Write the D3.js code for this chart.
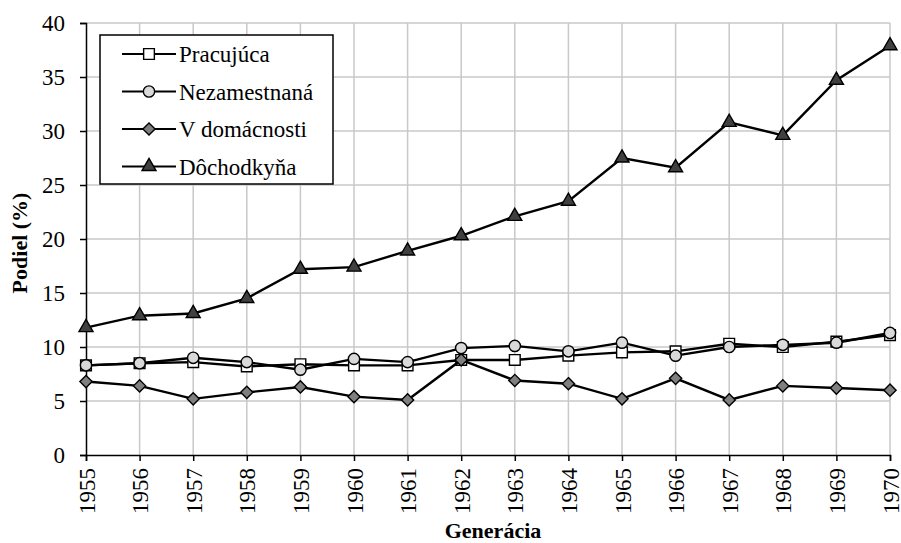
<!DOCTYPE html>
<html>
<head>
<meta charset="utf-8">
<script src="https://cdn.jsdelivr.net/npm/d3@7"></script>
</head>
<body style="margin:0; background:#fff">
<svg width="901" height="543"></svg>
<script>
// dáta
var years = [1955, 1956, 1957, 1958, 1959, 1960, 1961, 1962, 1963, 1964, 1965, 1966, 1967, 1968, 1969, 1970];
var pracujuca = [8.3, 8.5, 8.6, 8.2, 8.4, 8.3, 8.3, 8.8, 8.8, 9.2, 9.5, 9.6, 10.3, 10.0, 10.5, 11.1];
var nezamestnana = [8.3, 8.5, 9.0, 8.6, 7.9, 8.9, 8.6, 9.9, 10.1, 9.6, 10.4, 9.2, 10.0, 10.2, 10.4, 11.3];
var vDomacnosti = [6.8, 6.4, 5.2, 5.8, 6.3, 5.4, 5.1, 8.8, 6.9, 6.6, 5.2, 7.1, 5.1, 6.4, 6.2, 6.0];
var dochodkyna = [11.8, 12.9, 13.1, 14.5, 17.2, 17.4, 18.9, 20.3, 22.1, 23.5, 27.5, 26.6, 30.8, 29.6, 34.7, 37.9];
var seriesNames = ["Pracujúca", "Nezamestnaná", "V domácnosti", "Dôchodkyňa"];
var yTicks = [0, 5, 10, 15, 20, 25, 30, 35, 40];

var FONT = "Liberation Serif";

var svg = d3.select("svg"),
  margin = {left: 86, right: 11, top: 23, bottom: 88},
  width = +svg.attr("width") - margin.left - margin.right,
  height = +svg.attr("height") - margin.top - margin.bottom;

var g = svg.append("g").attr("transform", "translate(" + margin.left + "," + margin.top + ")");

var x = d3.scaleLinear().domain([1955, 1970]).range([0, width]);
var y = d3.scaleLinear().domain([0, 40]).range([height, 0]);

// mriežka
g.append("g").selectAll("line").data(yTicks.slice(1)).enter().append("line")
  .attr("x1", 0).attr("x2", width)
  .attr("y1", function (d) { return y(d); }).attr("y2", function (d) { return y(d); })
  .style("stroke", "#c8c8c8").style("stroke-width", 1.5);
g.append("g").selectAll("line").data(years.slice(1)).enter().append("line")
  .attr("x1", function (d) { return x(d); }).attr("x2", function (d) { return x(d); })
  .attr("y1", 0).attr("y2", height)
  .style("stroke", "#c8c8c8").style("stroke-width", 1.5);

// osi
var yAxis = g.append("g")
  .call(d3.axisLeft(y).tickValues(yTicks).tickSize(6).tickPadding(15));
var xAxis = g.append("g").attr("transform", "translate(0," + height + ")")
  .call(d3.axisBottom(x).tickValues(years).tickFormat(d3.format("d")).tickSize(6));
[yAxis, xAxis].forEach(function (a) {
  a.attr("font-family", FONT).attr("font-size", 23);
  a.select(".domain").style("stroke", "#000").style("stroke-width", 1.5);
  a.selectAll(".tick line").style("stroke", "#000").style("stroke-width", 1.5);
  a.selectAll("text").attr("fill", "#000");
});
xAxis.selectAll("text")
  .attr("transform", "rotate(-90)")
  .attr("x", -13).attr("y", 0).attr("dy", "0.35em")
  .attr("text-anchor", "end");

// popisy osí
svg.append("text")
  .attr("transform", "translate(27," + (margin.top + height / 2 + 4) + ") rotate(-90)")
  .attr("text-anchor", "middle")
  .attr("font-family", FONT)
  .attr("font-size", 22).attr("font-weight", "bold")
  .text("Podiel (%)");
svg.append("text")
  .attr("x", 493).attr("y", 538)
  .attr("text-anchor", "middle")
  .attr("font-family", FONT)
  .attr("font-size", 22).attr("font-weight", "bold")
  .text("Generácia");

// série
var series = [
  {name: seriesNames[0], values: pracujuca, symbol: d3.symbolSquare, size: 115, fill: "#ffffff"},
  {name: seriesNames[1], values: nezamestnana, symbol: d3.symbolCircle, size: 100, fill: "#d9d9d9"},
  {name: seriesNames[2], values: vDomacnosti, symbol: d3.symbolDiamond2, size: 95, fill: "#7f7f7f"},
  {name: seriesNames[3], values: dochodkyna, symbol: d3.symbolTriangle, size: 85, fill: "#404040"}
];

var line = d3.line()
  .x(function (d, i) { return x(years[i]); })
  .y(function (d) { return y(d); });

series.forEach(function (s) {
  g.append("path")
    .datum(s.values)
    .attr("d", line)
    .style("fill", "none").style("stroke", "#000").style("stroke-width", 2.4);
  g.append("g").selectAll("path").data(s.values).enter().append("path")
    .attr("d", d3.symbol().type(s.symbol).size(s.size))
    .attr("transform", function (d, i) { return "translate(" + x(years[i]) + "," + y(d) + ")"; })
    .style("fill", s.fill).style("stroke", "#000").style("stroke-width", 1.4);
});

// legenda
var legend = svg.append("g").attr("transform", "translate(100,35)");
legend.append("rect")
  .attr("width", 233).attr("height", 149)
  .style("fill", "#fff").style("stroke", "#000").style("stroke-width", 1.5);
series.forEach(function (s, i) {
  var ly = 19 + i * 37.5;
  legend.append("line").attr("x1", 22).attr("x2", 76).attr("y1", ly).attr("y2", ly)
    .style("stroke", "#000").style("stroke-width", 2);
  legend.append("path")
    .attr("d", d3.symbol().type(s.symbol).size(s.size))
    .attr("transform", "translate(49," + ly + ")")
    .style("fill", s.fill).style("stroke", "#000").style("stroke-width", 1.4);
  legend.append("text").attr("x", 79).attr("y", ly).attr("dy", "0.35em")
    .attr("font-family", FONT)
    .attr("font-size", 23).text(s.name);
});
</script>
</body>
</html>
